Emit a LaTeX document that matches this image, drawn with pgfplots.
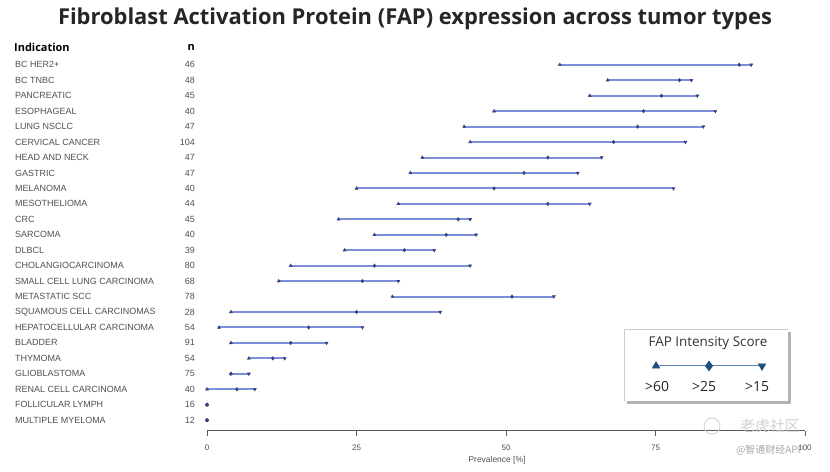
\documentclass[border=0pt]{standalone}
\usepackage{pgfplots}
\usepackage{pgfplotstable}
\pgfplotsset{compat=1.18}
\usepackage{fontspec}
\setmainfont{Liberation Sans}
\newfontfamily\titlefont{Open Sans}
\newfontfamily\cjk{Noto Sans CJK SC}

\definecolor{rangeline}{RGB}{125,142,218}
\definecolor{dotcol}{RGB}{55,65,120}
\definecolor{labgray}{RGB}{80,80,80}
\definecolor{legblue}{RGB}{30,80,125}
\definecolor{leglinecol}{RGB}{90,130,175}

% row low mid high  (prevalence in %, low = >60, mid = >25, high = >15)
\pgfplotstableread{
row low mid high
1 59 89 91
2 67 79 81
3 64 76 82
4 48 73 85
5 43 72 83
6 44 68 80
7 36 57 66
8 34 53 62
9 25 48 78
10 32 57 64
11 22 42 44
12 28 40 45
13 23 33 38
14 14 28 44
15 12 26 32
16 31 51 58
17 4 25 39
18 2 17 26
19 4 14 20
20 7 11 13
21 4 4 7
22 0 5 8
23 0 0 0
24 0 0 0
}\fap

\begin{document}
\begin{tikzpicture}[x=1bp,y=1bp]
\path[use as bounding box] (0,0) rectangle (830,472);

\node[font=\titlefont\bfseries\fontsize{22}{26}\selectfont, text=black!85] at (415,453) {Fibroblast Activation Protein (FAP) expression across tumor types};

\begin{axis}[
    at={(207bp,41bp)}, anchor=south west,
    scale only axis, width=598bp, height=377bp,
    xmin=0, xmax=100, ymin=0.3, ymax=24.7,
    y dir=reverse,
    axis x line=bottom, axis y line=none,
    x axis line style={-, draw=black!65, line width=1bp},
    xtick={0,25,50,75,100},
    tick align=outside, major tick length=5bp,
    xtick style={draw=black!65, line width=1bp},
    xticklabel style={font=\fontsize{8}{9}\selectfont, text=labgray, yshift=-5bp},
    /pgf/number format/assume math mode=true,
    xlabel={Prevalence [\%]},
    xlabel style={font=\fontsize{8.5}{10}\selectfont, text=labgray, yshift=1bp, xshift=-9bp},
    clip=false,
]
\addplot[draw=none, mark=none, forget plot,
    error bars/.cd, x dir=both, x explicit, error mark=none,
    error bar style={draw=rangeline, solid, line width=2bp}]
    table[x=mid, y=row,
          x error plus expr=\thisrow{high}-\thisrow{mid},
          x error minus expr=\thisrow{mid}-\thisrow{low}] {\fap};
\addplot[only marks, mark=triangle*, mark size=1.8pt, color=dotcol] table[x=low, y=row] {\fap};
\addplot[only marks, mark=diamond*, mark size=1.8pt, color=dotcol] table[x=mid, y=row] {\fap};
\addplot[only marks, mark=triangle*, mark size=1.8pt, mark options={rotate=180}, color=dotcol] table[x=high, y=row] {\fap};
\end{axis}

% indication and n columns
\node[anchor=west, font=\titlefont\bfseries\fontsize{11}{12}\selectfont, inner sep=1bp] at (13,425) {Indication};
\node[anchor=east, font=\titlefont\bfseries\fontsize{11}{12}\selectfont, inner sep=1bp] at (196,425) {n};
\foreach \i/\name/\n in {
  1/BC HER2+/46, 2/BC TNBC/48, 3/PANCREATIC/45, 4/ESOPHAGEAL/40,
  5/LUNG NSCLC/47, 6/CERVICAL CANCER/104, 7/HEAD AND NECK/47, 8/GASTRIC/47,
  9/MELANOMA/40, 10/MESOTHELIOMA/44, 11/CRC/45, 12/SARCOMA/40,
  13/DLBCL/39, 14/CHOLANGIOCARCINOMA/80, 15/SMALL CELL LUNG CARCINOMA/68,
  16/METASTATIC SCC/78, 17/SQUAMOUS CELL CARCINOMAS/28,
  18/HEPATOCELLULAR CARCINOMA/54, 19/BLADDER/91, 20/THYMOMA/54,
  21/GLIOBLASTOMA/75, 22/RENAL CELL CARCINOMA/40, 23/FOLLICULAR LYMPH/16,
  24/MULTIPLE MYELOMA/12}{
  \pgfmathsetmacro{\yy}{472-(64.8+(\i-1)*15.45)}
  \node[anchor=west, font=\fontsize{9}{10}\selectfont, text=labgray, inner sep=1bp] at (14,\yy) {\name};
  \node[anchor=east, font=\fontsize{9}{10}\selectfont, text=labgray, inner sep=1bp] at (196,\yy) {\n};
}

% intensity score key
\fill[black!30] (627,68) rectangle (791,140);
\fill[white] (624,71) rectangle (788,143);
\draw[black!20] (624,71) -- (624,143) -- (788,143);
\node[font=\titlefont\fontsize{13.5}{16}\selectfont, text=black!80] at (708,129) {FAP Intensity Score};
\begin{axis}[
    at={(656bp,106bp)}, anchor=origin,
    scale only axis, width=106bp, height=10bp,
    xmin=0, xmax=2, ymin=-1, ymax=1,
    hide axis, clip=false,
]
\addplot[color=leglinecol, line width=1pt, mark=none] coordinates {(0,0) (2,0)};
\addplot[only marks, mark=triangle*, mark size=4.5pt, color=legblue] coordinates {(0,0)};
\addplot[only marks, mark=diamond*, mark size=5pt, color=legblue] coordinates {(1,0)};
\addplot[only marks, mark=triangle*, mark size=4.5pt, mark options={rotate=180}, color=legblue] coordinates {(2,0)};
\end{axis}
\node[font=\titlefont\fontsize{14}{17}\selectfont, text=black!85] at (657,85) {>60};
\node[font=\titlefont\fontsize{14}{17}\selectfont, text=black!85] at (704,85) {>25};
\node[font=\titlefont\fontsize{14}{17}\selectfont, text=black!85] at (757,85) {>15};

% watermarks
\node[font=\cjk\fontsize{15}{17}\selectfont, text=black!18] at (770,46) {老虎社区};
\draw[black!18, line width=0.8pt] (712,46) circle (8);
\node[font=\cjk\fontsize{10}{12}\selectfont, text=black!35] at (770,22) {@智通财经APP};
\end{tikzpicture}
\end{document}
